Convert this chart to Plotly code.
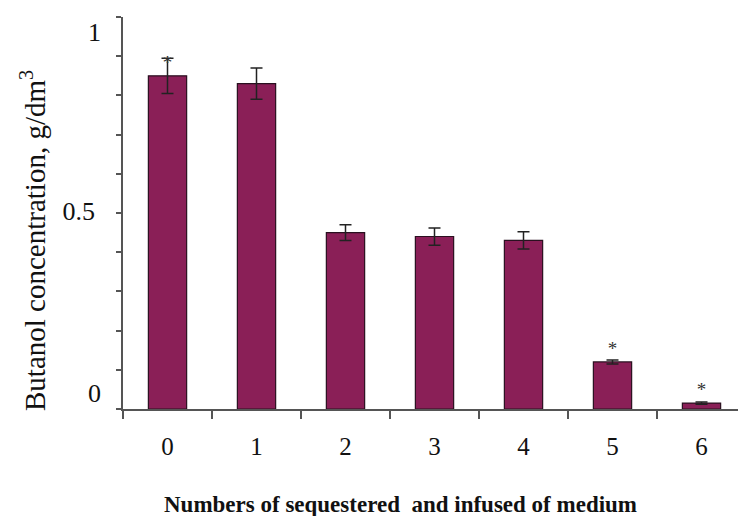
import plotly.graph_objects as go

categories = ["0", "1", "2", "3", "4", "5", "6"]
values = [0.85, 0.83, 0.45, 0.44, 0.43, 0.12, 0.015]
errors = [0.045, 0.04, 0.02, 0.022, 0.022, 0.005, 0.003]
star_cats = ["0", "5", "6"]
star_y = [0.855, 0.125, 0.02]
y_title = "Butanol concentration, g/dm<sup>3</sup>"
x_title = "<b>Numbers of sequestered  and infused of medium</b>"

SERIF = "Liberation Serif, Times New Roman, DejaVu Serif, serif"
AXC = "#555555"
TXT = "#111111"

fig = go.Figure()
fig.add_trace(go.Bar(
    x=categories, y=values,
    width=0.43,
    marker=dict(color="#8A1F57", line=dict(color="#2a1020", width=1.2)),
    error_y=dict(type="data", array=errors, visible=True,
                 color="#222222", thickness=1.5, width=6),
    showlegend=False,
))
fig.add_trace(go.Scatter(
    x=star_cats, y=star_y, mode="text", text=["*"] * len(star_cats),
    textposition="top center",
    textfont=dict(family=SERIF, size=19, color="#333333"),
    showlegend=False, hoverinfo="skip",
))
# invisible helpers so the overlay label axes get drawn
for ax in ("y2", "y3"):
    fig.add_trace(go.Scatter(
        x=categories[:1], y=values[:1], yaxis=ax, mode="markers",
        marker=dict(opacity=0), showlegend=False, hoverinfo="skip",
    ))

# page body has an ~8px default margin, so the figure is sized to fit the window
fig.update_layout(
    width=738, height=508,
    margin=dict(l=115, r=0, t=9, b=107),
    paper_bgcolor="white", plot_bgcolor="white",
    font=dict(family=SERIF, color=TXT),
)
fig.update_xaxes(
    type="category", range=[-0.5, 6.5], automargin=False,
    tickson="boundaries", ticks="outside", ticklen=8, tickwidth=1.5, tickcolor=AXC,
    showline=True, linecolor=AXC, linewidth=1.5,
    showgrid=False, zeroline=False,
    tickfont=dict(size=25, family=SERIF, color=TXT),
    ticklabelstandoff=14,
)
# primary y axis: line, minor ticks and the "0.5" label
fig.update_yaxes(
    range=[0, 1], tickvals=[0.5], ticktext=["0.5"],
    automargin=False,
    ticks="outside", ticklen=5, tickwidth=1.5, tickcolor=AXC,
    minor=dict(dtick=0.1, tick0=0, ticks="outside", ticklen=5, tickwidth=1.5, tickcolor=AXC),
    showline=True, linecolor=AXC, linewidth=1.5,
    showgrid=False, zeroline=False,
    tickfont=dict(size=26, family=SERIF, color=TXT),
    ticklabelstandoff=16, ticklabelshift=-2,
)
# overlay axes carrying the "0" and "1" labels at the offsets seen in the reference
common = dict(range=[0, 1], overlaying="y", anchor="x", side="left", automargin=False,
              showline=False, showgrid=False, zeroline=False, ticks="",
              tickfont=dict(size=26, family=SERIF, color=TXT), ticklabelstandoff=21)
fig.update_layout(
    yaxis2=dict(tickvals=[0], ticktext=["0"], ticklabelshift=-16, **common),
    yaxis3=dict(tickvals=[1], ticktext=["1"], ticklabelshift=15, **common),
)
fig.add_annotation(
    text=y_title, textangle=-90, showarrow=False,
    xref="paper", yref="paper", x=0, y=0.5, xanchor="center", yanchor="middle",
    xshift=-90, yshift=-28,
    font=dict(size=29, family=SERIF, color=TXT),
)
fig.add_annotation(
    text=x_title, showarrow=False,
    xref="paper", yref="paper", x=0.5, y=0, xanchor="center", yanchor="middle",
    xshift=-34, yshift=-95,
    font=dict(size=23, family=SERIF, color=TXT),
)

fig.write_html("out.html")
